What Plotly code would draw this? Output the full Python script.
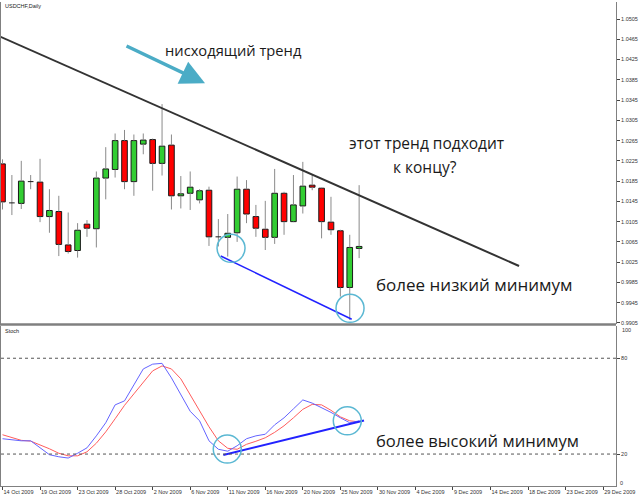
import plotly.graph_objects as go

# ---------------- data ----------------
bar_idx = list(range(39))
opens  = [1.0219, 1.0142, 1.0141, 1.0184, 1.0183, 1.0115, 1.0125, 1.0059, 1.0048, 1.0100,
          1.0091, 1.0191, 1.0208, 1.0265, 1.0184, 1.0258, 1.0267, 1.0220, 1.0256, 1.0156,
          1.0161, 1.0148, 1.0167, 1.0075, 1.0074, 1.0083, 1.0169, 1.0115, 1.0090, 1.0074,
          1.0161, 1.0105, 1.0136, 1.0177, 1.0171, 1.0104, 1.0087, 0.9975, 1.0052]
highs  = [1.0228, 1.0197, 1.0225, 1.0197, 1.0229, 1.0169, 1.0156, 1.0123, 1.0102, 1.0108,
          1.0204, 1.0252, 1.0279, 1.0286, 1.0277, 1.0279, 1.0269, 1.0337, 1.0277, 1.0195,
          1.0204, 1.0169, 1.0174, 1.0110, 1.0120, 1.0194, 1.0187, 1.0138, 1.0146, 1.0209,
          1.0164, 1.0197, 1.0223, 1.0199, 1.0172, 1.0154, 1.0089, 1.0079, 1.0177]
lows   = [1.0129, 1.0118, 1.0130, 1.0169, 1.0104, 1.0083, 1.0037, 1.0042, 1.0034, 1.0075,
          1.0054, 1.0149, 1.0192, 1.0169, 1.0156, 1.0238, 1.0166, 1.0196, 1.0129, 1.0131,
          1.0128, 1.0141, 1.0057, 1.0056, 1.0036, 1.0065, 1.0102, 1.0075, 1.0049, 1.0061,
          1.0079, 1.0104, 1.0121, 1.0167, 1.0072, 1.0079, 0.9957, 0.9911, 1.0033]
closes = [1.0144, 1.0142, 1.0185, 1.0184, 1.0115, 1.0127, 1.0060, 1.0046, 1.0088, 1.0092,
          1.0191, 1.0209, 1.0265, 1.0184, 1.0265, 1.0266, 1.0220, 1.0254, 1.0156, 1.0160,
          1.0173, 1.0166, 1.0075, 1.0075, 1.0082, 1.0169, 1.0120, 1.0092, 1.0074, 1.0161,
          1.0105, 1.0138, 1.0175, 1.0173, 1.0105, 1.0089, 0.9975, 1.0054, 1.0056]

stoch_main   = [29.6, 28.9, 28.3, 28.3, 23.9, 19.6, 18.3, 17.5, 20.5, 23.9,
                31.4, 39.6, 50.8, 53.3, 63.3, 73.3, 76.3, 76.8, 67.7, 57.7,
                46.8, 40.8, 28.3, 23.0, 21.8, 25.2, 29.6, 31.4, 32.4, 38.3,
                42.7, 48.3, 53.9, 51.9, 49.1, 46.1, 42.7, 39.6, 40.8]
stoch_signal = [32.1, 30.2, 28.6, 28.1, 25.8, 23.3, 20.5, 18.9, 18.9, 21.4,
                26.8, 33.9, 42.1, 50.5, 57.7, 65.2, 72.1, 75.2, 73.3, 67.1,
                57.1, 48.0, 37.1, 28.3, 23.6, 23.0, 26.1, 28.0, 30.2, 33.6,
                37.7, 42.7, 48.0, 51.1, 50.8, 47.4, 43.3, 40.8, 40.2]

date_tick_idx = [0, 4, 8, 12, 16, 20, 24, 28, 32, 36, 40, 44, 48, 52, 56, 60, 64]
date_tick_labels = ["14 Oct 2009", "19 Oct 2009", "23 Oct 2009", "28 Oct 2009", "2 Nov 2009",
                    "6 Nov 2009", "11 Nov 2009", "16 Nov 2009", "20 Nov 2009", "25 Nov 2009",
                    "30 Nov 2009", "4 Dec 2009", "9 Dec 2009", "14 Dec 2009", "18 Dec 2009",
                    "23 Dec 2009", "29 Dec 2009"]
price_ticks = [1.0505, 1.0465, 1.0425, 1.0385, 1.0345, 1.0305, 1.0265, 1.0225, 1.0185,
               1.0145, 1.0105, 1.0065, 1.0025, 0.9985, 0.9945, 0.9905]
stoch_ticks = [80, 20]

# drawn lines (index, value)
trend_x = [-0.27, 55.04]
trend_y = [1.04704, 1.00174]
low_line_x = [23.25, 37.21]
low_line_y = [1.00372, 0.99122]
stoch_line_x = [23.53, 38.52]
stoch_line_y = [19.4, 41.0]
circle_main = [(24.35, 1.00524), (37.03, 0.99339)]
circle_stoch = [(23.95, 23.1), (36.74, 40.8)]

# ---------------- figure ----------------
fig = go.Figure()

GREEN = "#32cd32"
RED = "#ff0000"
OUT = "#1a1a1a"

wx, wy = [], []
body_x, body_h, body_b, body_c = [], [], [], []
doji_x, doji_y = [], []
for i, o, h, l, c in zip(bar_idx, opens, highs, lows, closes):
    top, bot = max(o, c), min(o, c)
    wx += [i, i, None, i, i, None]
    wy += [h, top, None, bot, l, None]
    if abs(c - o) < 0.00005:
        doji_x += [i - 0.3, i + 0.3, None]
        doji_y += [o, o, None]
    else:
        body_x.append(i)
        body_h.append(top - bot)
        body_b.append(bot)
        body_c.append(GREEN if c > o else RED)

fig.add_trace(go.Scatter(x=wx, y=wy, mode="lines", line=dict(color="#8a8a8a", width=1),
                         xaxis="x", yaxis="y", hoverinfo="skip"))
fig.add_trace(go.Bar(x=body_x, y=body_h, base=body_b, width=0.6,
                     marker=dict(color=body_c, line=dict(color=OUT, width=1)),
                     xaxis="x", yaxis="y"))
fig.add_trace(go.Scatter(x=doji_x, y=doji_y, mode="lines", line=dict(color=OUT, width=1),
                         xaxis="x", yaxis="y"))
fig.add_trace(go.Scatter(x=trend_x, y=trend_y, mode="lines", line=dict(color="#333333", width=2),
                         xaxis="x", yaxis="y"))
fig.add_trace(go.Scatter(x=low_line_x, y=low_line_y, mode="lines", line=dict(color="#2222ff", width=1.5),
                         xaxis="x", yaxis="y"))

fig.add_trace(go.Scatter(x=bar_idx, y=stoch_signal, mode="lines", line=dict(color="#ff5c5c", width=1),
                         xaxis="x2", yaxis="y2"))
fig.add_trace(go.Scatter(x=bar_idx, y=stoch_main, mode="lines", line=dict(color="#6464ff", width=1),
                         xaxis="x2", yaxis="y2"))
fig.add_trace(go.Scatter(x=stoch_line_x, y=stoch_line_y, mode="lines", line=dict(color="#2222ff", width=2),
                         xaxis="x2", yaxis="y2"))

W, H = 640, 497
L, R, T, B = 1, 24, 2, 11
PW, PH = W - L - R, H - T - B
def py(p):  # pixel y -> paper
    return (H - B - p) / PH
def px(p):
    return (p - L) / PW

xr = [-0.16, 65.37]
tickfont = dict(family="Liberation Sans", size=5.5, color="#333333")

shapes = []
shapes.append(dict(type="line", xref="paper", yref="paper", x0=px(0), x1=1, y0=py(324.6), y1=py(324.6),
                   line=dict(color="#808080", width=2.5)))
for v in stoch_ticks:
    shapes.append(dict(type="line", xref="paper", yref="y2", x0=0, x1=1, y0=v, y1=v,
                       line=dict(color="#555555", width=1, dash="dot")))
for (cx, cy) in circle_main:
    shapes.append(dict(type="circle", xref="x", yref="y", xsizemode="pixel", ysizemode="pixel",
                       xanchor=cx, yanchor=cy, x0=-14, x1=14, y0=-14, y1=14,
                       line=dict(color="#5bb8d3", width=1.5)))
for (cx, cy) in circle_stoch:
    shapes.append(dict(type="circle", xref="x2", yref="y2", xsizemode="pixel", ysizemode="pixel",
                       xanchor=cx, yanchor=cy, x0=-14, x1=14, y0=-14, y1=14,
                       line=dict(color="#5bb8d3", width=1.5)))

def tf(size):
    return dict(family="Open Sans", size=size, color="#1a1a1a")

annotations = [
    dict(text="USDCHF,Daily", xref="paper", yref="paper", x=px(3), y=py(6), xanchor="left",
         yanchor="middle", showarrow=False, font=dict(family="Liberation Sans", size=5.5, color="#222")),
    dict(text="Stoch", xref="paper", yref="paper", x=px(3), y=py(331), xanchor="left",
         yanchor="middle", showarrow=False, font=dict(family="Liberation Sans", size=5.5, color="#222")),
    dict(text="100", xref="paper", yref="paper", x=px(620), y=py(330), xanchor="left",
         yanchor="middle", showarrow=False, font=tickfont),
    dict(text="0", xref="paper", yref="paper", x=px(618), y=py(482.5), xanchor="left",
         yanchor="middle", showarrow=False, font=tickfont),
    dict(text="нисходящий тренд", xref="paper", yref="paper", x=px(163), y=py(50),
         xanchor="left", yanchor="middle", showarrow=False, font=tf(14.7)),
    dict(text="этот тренд подходит", xref="paper", yref="paper", x=px(427), y=py(143),
         xanchor="center", yanchor="middle", showarrow=False, font=tf(15.5)),
    dict(text="к концу?", xref="paper", yref="paper", x=px(425), y=py(167),
         xanchor="center", yanchor="middle", showarrow=False, font=tf(15.5)),
    dict(text="более низкий минимум", xref="paper", yref="paper", x=px(374), y=py(284),
         xanchor="left", yanchor="middle", showarrow=False, font=tf(17)),
    dict(text="более высокий минимум", xref="paper", yref="paper", x=px(374), y=py(440),
         xanchor="left", yanchor="middle", showarrow=False, font=tf(16.6)),
    dict(text="", x=21.58, y=1.03781, xref="x", yref="y", ax=-80, ay=-38, showarrow=True,
         arrowhead=2, arrowsize=1.4, arrowwidth=3.5, arrowcolor="#4bacc6", standoff=0),
]

fig.update_layout(
    width=W, height=H, margin=dict(l=L, r=R, t=T, b=B, autoexpand=False),
    paper_bgcolor="white", plot_bgcolor="white", showlegend=False,
    barmode="overlay", font=dict(family="Liberation Sans"),
    xaxis=dict(domain=[0, 1], range=xr, anchor="y", showticklabels=False, showgrid=False,
               zeroline=False, showline=False, ticks="", automargin=False),
    xaxis2=dict(domain=[0, 1], range=xr, anchor="y2", matches="x", showgrid=False, zeroline=False,
                tickmode="array", tickvals=date_tick_idx, ticktext=date_tick_labels,
                ticks="outside", ticklen=3, tickcolor="#444", tickwidth=1, tickangle=0,
                ticklabelposition="outside right", tickfont=tickfont, automargin=False,
                showline=True, linecolor="#808080", linewidth=1),
    yaxis=dict(domain=[py(324), 1], range=[0.99029, 1.05386], side="right", anchor="x",
               tickmode="array", tickvals=price_ticks, tickformat=".4f", automargin=False,
               ticks="outside", ticklen=3, tickcolor="#444", tickfont=tickfont,
               showline=True, mirror=True, linecolor="#808080", linewidth=1,
               showgrid=False, zeroline=False),
    yaxis2=dict(domain=[0, py(326.3)], range=[0, 100], side="right", anchor="x2",
                tickmode="array", tickvals=stoch_ticks, ticks="outside", ticklen=3,
                tickcolor="#444", tickfont=tickfont, showline=True, mirror=True, automargin=False,
                linecolor="#808080", linewidth=1, showgrid=False, zeroline=False),
    shapes=shapes, annotations=annotations,
)

fig.write_html("out.html")
